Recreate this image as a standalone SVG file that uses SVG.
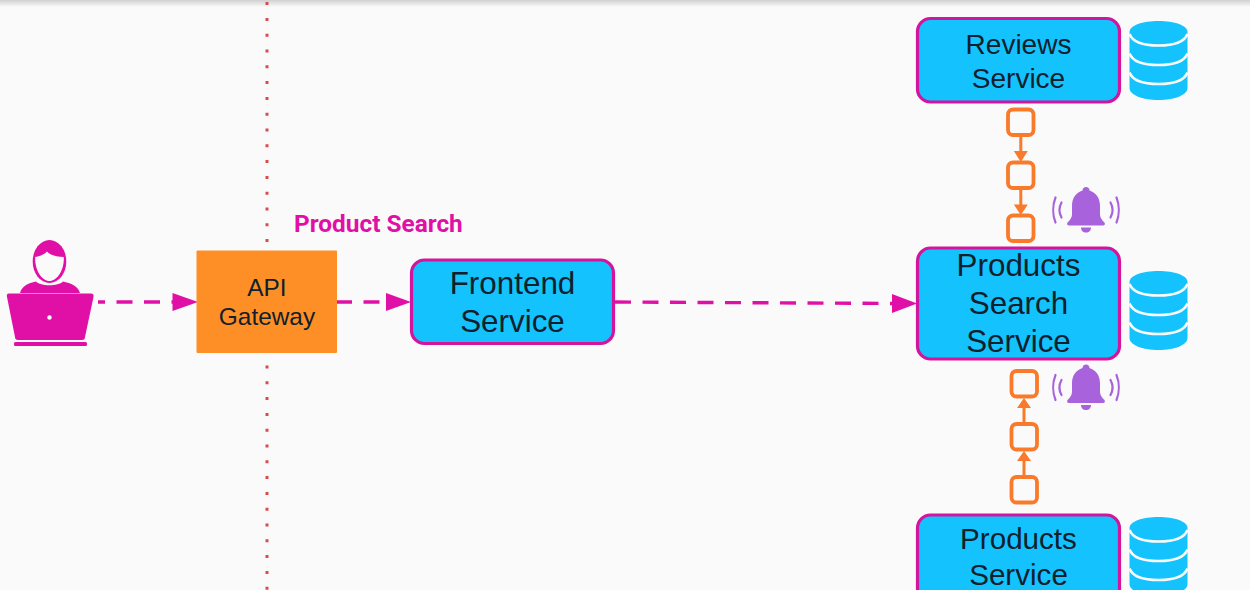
<svg xmlns="http://www.w3.org/2000/svg" width="1250" height="590" viewBox="0 0 1250 590">
<style>
.svc{fill:#14c3fd;stroke:#d2149e;stroke-width:3.2}
.t{font-family:"Liberation Sans",Arial,sans-serif;fill:#10202c;text-anchor:middle}
.flow{fill:none;stroke:#e010a6;stroke-width:3.4;stroke-dasharray:16 11.5;stroke-dashoffset:9}
.head{fill:#e010a6}
.q{fill:none;stroke:#f97a2a;stroke-width:3.8}
.ql{fill:none;stroke:#f97a2a;stroke-width:3}
.qh{fill:#f97a2a}
.db{fill:#14c3fd}
.dbl{fill:none;stroke:#fafafa;stroke-width:2.6}
.bell{fill:#a863dc}
.wave{fill:none;stroke:#a863dc;stroke-width:2.2;stroke-linecap:round}
</style>
<defs>
<linearGradient id="top" x1="0" y1="0" x2="0" y2="1"><stop offset="0" stop-color="#d0d0d0"/><stop offset="1" stop-color="#fafafa"/></linearGradient>
<g id="dbicon">
<path class="db" d="M0 11C0 4.500 13 0 29 0S58 4.500 58 11V67C58 74 45 79 29 79S0 74 0 67Z"/>
<path class="dbl" d="M0 13C3 21 15 24.500 29 24.500S55 21 58 13M0 32.500C3 40.500 15 44 29 44S55 40.500 58 32.500M0 51.500C3 59.500 15 63 29 63S55 59.500 58 51.500"/>
</g>
<g id="bellicon">
<path class="bell" d="M33 0C35 0 36.500 1.500 36.500 3.500C43 5.500 47 11 47 19V27C47 31 49.500 33.500 51.500 35.500C52.500 37.500 51.500 38.500 50 38.500H16C14.500 38.500 13.500 37.500 14.500 35.500C16.500 33.500 19 31 19 27V19C19 11 23 5.500 29.500 3.500C29.500 1.500 31 0 33 0Z"/>
<path class="bell" d="M28 40.500H38C38 43.500 36 45.500 33 45.500S28 43.500 28 40.500Z"/>
<path class="wave" d="M8.500 15.500C6 20 6 26 8.500 30.500M2.500 10.500C-0.500 18 -0.500 28 2.500 35.500M57.500 15.500C60 20 60 26 57.500 30.500M63.500 10.500C66.500 18 66.500 28 63.500 35.500"/>
</g>
</defs>
<rect width="1250" height="590" fill="#fafafa"/>
<rect width="1250" height="7" fill="url(#top)"/>
<path id="boundary" d="M267 0V590" fill="none" stroke="#d84c4c" stroke-width="3" stroke-dasharray="3 12.800" stroke-dashoffset="-2.100"/>
<g id="connectors">
<path class="flow" d="M98 302H176"/><path class="head" d="M172.500 293L198 302L172.500 311Z"/>
<path class="flow" d="M336 302H390" style="stroke-dashoffset:0"/><path class="head" d="M386 293L411 302L386 311Z"/>
<path class="flow" d="M615 302L896 303.500" style="stroke-dashoffset:0"/><path class="head" d="M892 294L917 303.500L892 313Z"/>
<path class="ql" d="M1020.800 136V154M1020.800 189V207M1024 405V424M1024 458V477"/>
<path class="qh" d="M1013.800 151H1027.800L1020.800 162ZM1013.800 204.500H1027.800L1020.800 215ZM1024 398L1031 408H1017ZM1024 451L1031 461H1017Z"/>
</g>
<g id="user">
<ellipse cx="49.500" cy="261.500" rx="16.800" ry="21.500" fill="#e010a6"/>
<path d="M35.200 257C41 256 45 254 47 251.500C50 255 57 257 63.800 257C64.500 270 57 281 49.500 281S34.500 270 35.200 257Z" fill="#fafafa"/>
<path d="M20 293C22 286 28 283 36 281.500C41 286.500 58 286.500 63 281.500C71 283 78 286 80 293Z" fill="#e010a6"/>
<path d="M9 293.500H91C93 293.500 94 295 93.500 297L85 337C85 339 84 340 82 340H18C16 340 15 339 15 337L7 297C6.500 295 7 293.500 9 293.500Z" fill="#e010a6"/>
<rect x="14" y="342" width="73" height="4" rx="1.500" fill="#e010a6"/>
<circle cx="49.500" cy="317.500" r="2.200" fill="#fafafa"/>
</g>
<g id="api-gateway">
<rect x="196.500" y="250.500" width="140.500" height="102.500" rx="1" fill="#fe8f26"/>
<text class="t" x="267" y="296" font-size="24.400">API</text>
<text class="t" x="267" y="325" font-size="24.400">Gateway</text>
</g>
<text id="flow-label" x="294" y="232" font-family="Roboto,'Liberation Sans',sans-serif" font-weight="700" font-size="24.400" fill="#e010a6">Product Search</text>
<g id="frontend-service">
<rect class="svc" x="411.500" y="260" width="202" height="83.500" rx="13"/>
<text class="t" x="512.500" y="294" font-size="31.400">Frontend</text>
<text class="t" x="512.500" y="332" font-size="31.400">Service</text>
</g>
<g id="reviews-service">
<rect class="svc" x="917.500" y="18.500" width="202" height="83.500" rx="13"/>
<text class="t" x="1018.500" y="54" font-size="28">Reviews</text>
<text class="t" x="1018.500" y="88" font-size="28">Service</text>
<use href="#dbicon" x="1129.500" y="21"/>
</g>
<g id="products-search-service">
<rect class="svc" x="917.500" y="248" width="202" height="111" rx="13"/>
<text class="t" x="1018.500" y="276" font-size="31.400">Products</text>
<text class="t" x="1018.500" y="314" font-size="31.400">Search</text>
<text class="t" x="1018.500" y="352" font-size="31.400">Service</text>
<use href="#dbicon" x="1129.500" y="271"/>
</g>
<g id="products-service">
<rect class="svc" x="917.500" y="515" width="202" height="100" rx="13"/>
<text class="t" x="1018.500" y="549" font-size="29.600">Products</text>
<text class="t" x="1018.500" y="585" font-size="29.600">Service</text>
<use href="#dbicon" x="1129.500" y="517"/>
</g>
<g id="queue-top">
<rect class="q" x="1008" y="109.500" width="25.500" height="25.500" rx="5"/>
<rect class="q" x="1008" y="162.500" width="25.500" height="25.500" rx="5"/>
<rect class="q" x="1008" y="215.500" width="25.500" height="25.500" rx="5"/>
</g>
<g id="queue-bottom">
<rect class="q" x="1011.500" y="371" width="25.500" height="25.500" rx="5"/>
<rect class="q" x="1011.500" y="424" width="25.500" height="25.500" rx="5"/>
<rect class="q" x="1011.500" y="477" width="25.500" height="25.500" rx="5"/>
</g>
<use id="bell-top" href="#bellicon" x="1053" y="187"/>
<use id="bell-bottom" href="#bellicon" x="1053" y="364.500"/>
</svg>
